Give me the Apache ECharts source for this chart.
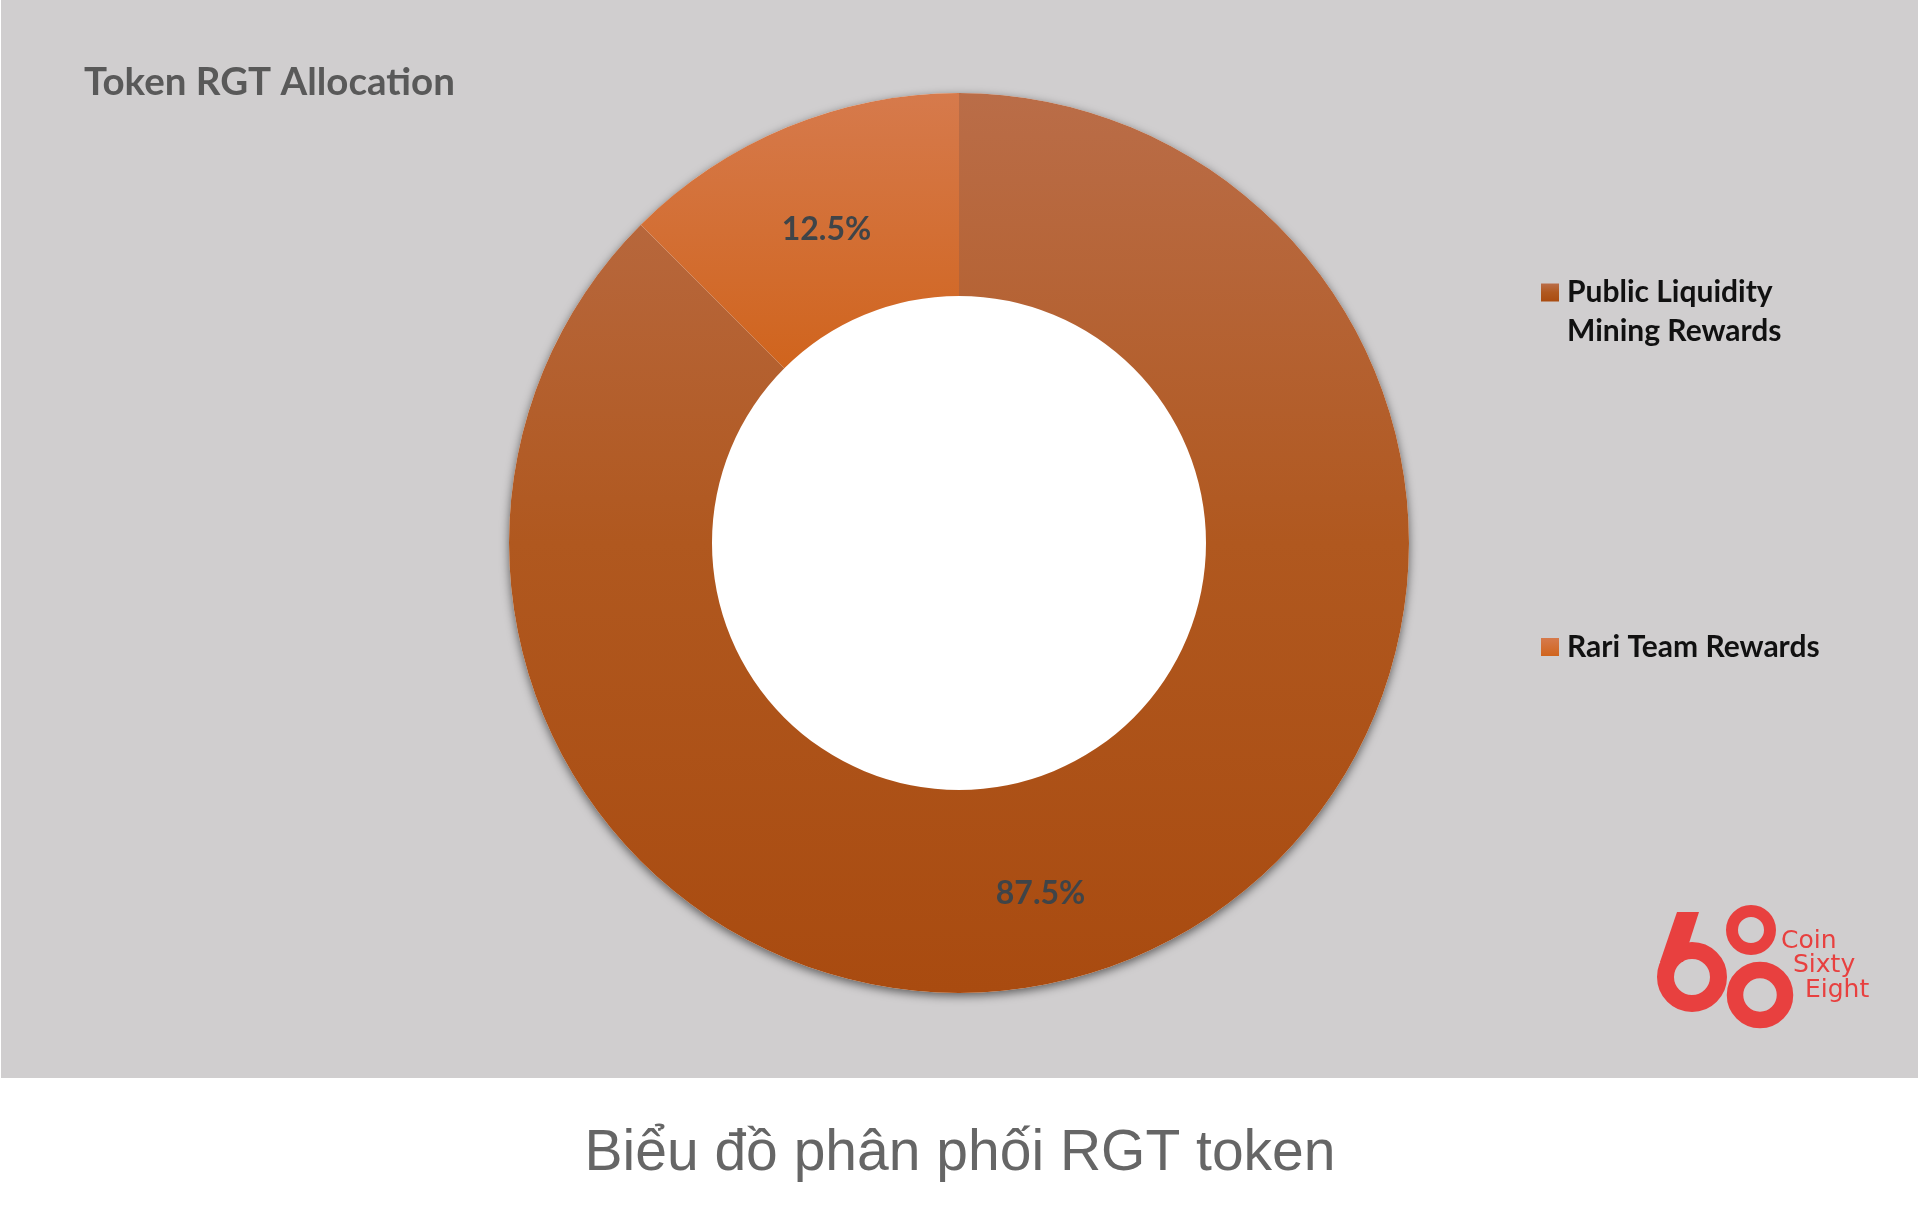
<!DOCTYPE html>
<html>
<head>
<meta charset="utf-8">
<script src="https://cdn.jsdelivr.net/npm/echarts@6/dist/echarts.min.js"></script>
<style>
html,body{margin:0;padding:0;background:#ffffff;}
#chart{width:1920px;height:1210px;}
</style>
</head>
<body>
<div id="chart"></div>
<script>
// ---- data ----
const categories = ['Public Liquidity Mining Rewards', 'Rari Team Rewards'];
const values = [87.5, 12.5];
const legendLines = {
  'Public Liquidity Mining Rewards': ' \nPublic Liquidity\nMining Rewards',
  'Rari Team Rewards': 'Rari Team Rewards'
};
const chartTitle = 'Token RGT Allocation';
const caption = 'Biểu đồ phân phối RGT token';
const logoWords = ['Coin', 'Sixty', 'Eight'];

// ---- styles ----
const sliceColors = [
  {type:'linear', x:0, y:0, x2:0, y2:1, colorStops:[{offset:0,color:'#ba6d48'},{offset:0.5,color:'#b0581f'},{offset:1,color:'#a94b10'}]},
  {type:'linear', x:0, y:0, x2:0, y2:1, colorStops:[{offset:0,color:'#d67a4c'},{offset:1,color:'#d0641d'}]}
];
const labelShift = [[-53, 26], [2, 11]];
const logoRed = '#e8403f';
const pieCenter = [959, 543];
const pieRadius = [247, 450];

const chart = echarts.init(document.getElementById('chart'), null, {renderer:'canvas'});
const option = {
  backgroundColor: '#ffffff',
  animation: false,
  graphic: [
    {type:'rect', z:-10, shape:{x:1, y:0, width:1917, height:1078}, style:{fill:'#d0cecf'}, silent:true},
    // logo
    {type:'circle', shape:{cx:1692, cy:977, r:26.5}, style:{fill:'none', stroke:logoRed, lineWidth:17}, silent:true},
    {type:'polygon', shape:{points:[[1677,912],[1699,912],[1683,962],[1660,962]]}, style:{fill:logoRed}, silent:true},
    {type:'circle', shape:{cx:1751, cy:930, r:19}, style:{fill:'none', stroke:logoRed, lineWidth:12}, silent:true},
    {type:'circle', shape:{cx:1760, cy:995, r:25}, style:{fill:'none', stroke:logoRed, lineWidth:16.5}, silent:true},
    {type:'text', x:1781, y:941, style:{text:logoWords[0], fill:logoRed, font:'normal 25px "DejaVu Sans"', verticalAlign:'middle'}, silent:true},
    {type:'text', x:1793, y:965, style:{text:logoWords[1], fill:logoRed, font:'normal 25px "DejaVu Sans"', verticalAlign:'middle'}, silent:true},
    {type:'text', x:1805, y:990, style:{text:logoWords[2], fill:logoRed, font:'normal 25px "DejaVu Sans"', verticalAlign:'middle'}, silent:true}
  ],
  title: [
    {text: chartTitle, left: 84, top: 63, padding:0,
     textStyle:{fontFamily:'Lato', fontWeight:'bold', fontSize:38.5, color:'#595959'}},
    {text: caption, left: 'center', top: 1126, padding:0,
     textStyle:{fontFamily:'"Liberation Sans", Arial', fontWeight:'normal', fontSize:57, color:'#666666'}}
  ],
  legend: {
    orient:'vertical', left:1541, top:234, padding:0,
    itemWidth:18, itemHeight:18, itemGap:276.5,
    icon:'rect',
    data: categories,
    formatter: function(name){ return legendLines[name]; },
    textStyle:{fontFamily:'Lato', fontWeight:'bold', fontSize:30, lineHeight:39, color:'#111111', padding:[0,0,0,3]},
    selectedMode:false
  },
  series: [
    {
      type:'pie', name:'backdrop', z:1, silent:true,
      center:pieCenter, radius:[0, pieRadius[1]],
      label:{show:false}, labelLine:{show:false}, emphasis:{disabled:true}, tooltip:{show:false},
      itemStyle:{color:'#ffffff', shadowColor:'rgba(0,0,0,0.55)', shadowBlur:10, shadowOffsetY:3},
      data:[{name:'backdrop', value:1}]
    },
    {
      type:'pie', z:2,
      center:pieCenter,
      radius:pieRadius,
      startAngle:90,
      clockwise:true,
      avoidLabelOverlap:false,
      label:{
        show:true, position:'inside',
        formatter: function(p){ return p.percent.toFixed(1) + '%'; },
        fontFamily:'Lato', fontWeight:'bold', fontSize:32, color:'#3f4448'
      },
      labelLayout: function(p){ return {dx: labelShift[p.dataIndex][0], dy: labelShift[p.dataIndex][1]}; },
      labelLine:{show:false},
      emphasis:{disabled:true},
      data: categories.map(function(c, i){ return {name:c, value:values[i], itemStyle:{color:sliceColors[i]}}; })
    }
  ]
};
chart.setOption(option);
</script>
</body>
</html>
